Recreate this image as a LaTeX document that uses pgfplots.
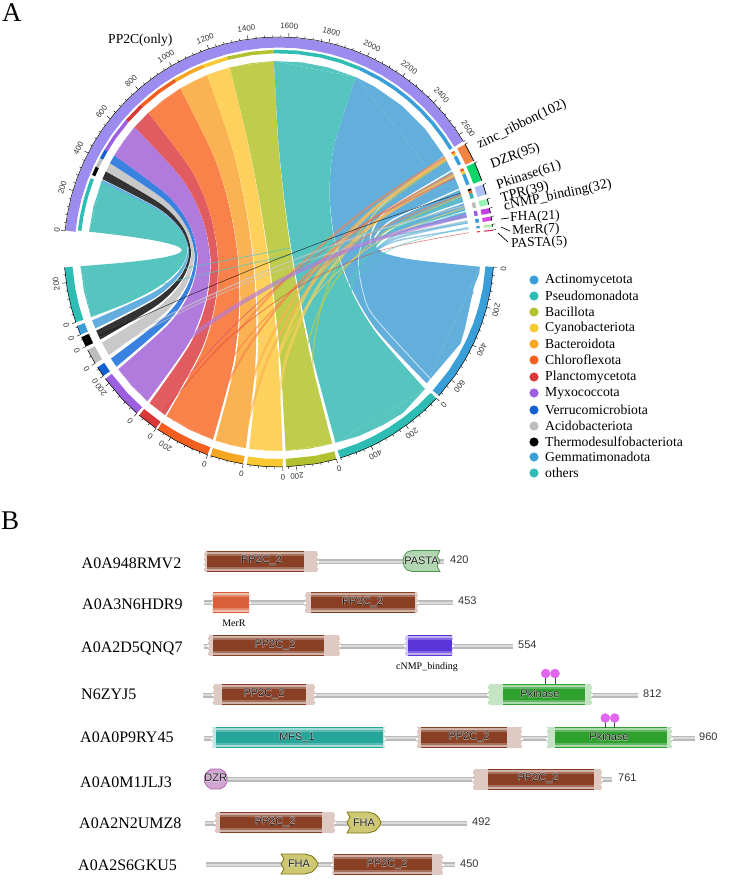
\documentclass[border=0pt]{standalone}
\usepackage{fontspec}
\setmainfont{Liberation Serif}
\newfontfamily\lsans{Liberation Sans}
\usepackage{pgfplots}
\usepgfplotslibrary{fillbetween}
\pgfplotsset{compat=1.18}
\newcommand{\fs}[1]{\fontsize{#1}{#1}\selectfont}

% chords
\definecolor{cTeal}{HTML}{56C5C0}
\definecolor{cGem}{HTML}{63AEDF}
\definecolor{cBlack}{HTML}{333333}
\definecolor{cGrey}{HTML}{C9C9C9}
\definecolor{cVerr}{HTML}{3A82E0}
\definecolor{cPurp}{HTML}{B07BDD}
\definecolor{cRed}{HTML}{E15C60}
\definecolor{cOrg}{HTML}{F9824B}
\definecolor{cLOrg}{HTML}{FBB253}
\definecolor{cYel}{HTML}{FDD15C}
\definecolor{cOli}{HTML}{BFCC4C}
\definecolor{cAct}{HTML}{63AFDC}
% tracks
\definecolor{tTeal}{HTML}{2DBDB5}
\definecolor{tBlue}{HTML}{3A9FD8}
\definecolor{tOli}{HTML}{B3C02F}
\definecolor{tYel}{HTML}{F9C932}
\definecolor{tLOrg}{HTML}{F5A623}
\definecolor{tOrg}{HTML}{F25F1F}
\definecolor{tRed}{HTML}{D93838}
\definecolor{tPurp}{HTML}{9B5FE0}
\definecolor{tVerr}{HTML}{1560D0}
\definecolor{tGrey}{HTML}{BDBDBD}
\definecolor{tLav}{HTML}{9C8CF0}
% part B
\definecolor{pBrown}{HTML}{8A4025}
\definecolor{pTeal}{HTML}{26A69A}
\definecolor{pGreen}{HTML}{2EA02E}
\definecolor{pViol}{HTML}{5A35D8}
\definecolor{pMerR}{HTML}{D8603A}
\definecolor{pLoll}{HTML}{E066F0}

\newcommand{\trk}[3]{\addplot[color=#1,line width=#2pt,data cs=polar] coordinates {#3};}
\newcommand{\rib}[2]{\addplot[fill=#1,draw=none] coordinates {#2};}
% ribbon: colour, edge from top to bottom, other edge from top to bottom
\newcommand{\rbn}[3]{%
  \addplot[name path=ea,draw=none,smooth] coordinates {#2};
  \addplot[name path=eb,draw=none,smooth] coordinates {#3};
  \addplot[fill=#1,draw=none] fill between[of=ea and eb,reverse=true,on layer=main];}
\newcommand{\lnk}[3]{\addplot[color=#1,line width=#2pt,smooth,opacity=.65] coordinates {#3};}
\newcommand{\bbone}[3]{%
  \addplot[color=black!27,line width=5pt] coordinates {(#1,#3)(#2,#3)};
  \addplot[color=black!14,line width=2pt] coordinates {(#1,#3)(#2,#3)};}
% x0 x1 outer, xd0 xd1 dark part, y, ytop, ybot, colour
\newcommand{\domn}[8]{%
  \addplot[color=#8!28!white,line width=21pt] coordinates {(#1,#5)(#2,#5)};
  \addplot[color=#8,line width=21pt] coordinates {(#3,#5)(#4,#5)};
  \addplot[color=#8!40!white,line width=19pt] coordinates {(#3,#5)(#4,#5)};
  \addplot[color=#8!75!white,line width=15pt] coordinates {(#3,#5)(#4,#5)};
  \addplot[color=#8,line width=11pt] coordinates {(#3,#5)(#4,#5)};
  \addplot[color=white,line width=1.6pt,dash pattern=on 2pt off 3pt] coordinates {(#1,#6)(#1,#7)};
  \addplot[color=white,line width=1.6pt,dash pattern=on 2pt off 3pt] coordinates {(#2,#6)(#2,#7)};}
\tikzset{dfont/.style={font=\lsans\fs{11},inner sep=0pt}}
\newcommand{\dlab}[3]{%
  \node[dfont,text=white,text opacity=.45,xshift=.5pt] at (axis cs:#1,#2) {#3};
  \node[dfont,text=white,text opacity=.45,xshift=-.5pt] at (axis cs:#1,#2) {#3};
  \node[dfont,text=white,text opacity=.45,yshift=.5pt] at (axis cs:#1,#2) {#3};
  \node[dfont,text=white,text opacity=.45,yshift=-.5pt] at (axis cs:#1,#2) {#3};
  \node[dfont,text=black!88] at (axis cs:#1,#2) {#3};}
\newcommand{\nmb}[3]{\node[font=\lsans\fs{11},text=black!80,anchor=west,inner sep=0pt] at (axis cs:#1,#2) {#3};}
\newcommand{\accn}[3]{\node[font=\fs{16},anchor=west,inner sep=0pt] at (axis cs:#1,#2) {#3};}
\newcommand{\lgd}[3]{%
  \addplot[only marks,mark=*,mark size=4.3pt,color=#1,mark options={draw=none}] coordinates {(534,#2)};
  \node[font=\fs{13.7},anchor=west,inner sep=0pt] at (axis cs:545,#2) {#3};}
\newcommand{\tkl}[4]{\node[font=\lsans\fs{8},text=black!80,rotate=#3,inner sep=0pt] at (axis cs:#1,#2) {#4};}
% one tick: angle, outer radius
\newcommand{\tk}[2]{\addplot[black,line width=.4pt,data cs=polar] coordinates {(#1,215)(#1,#2)};}

\pgfplotsset{base/.style={
  scale only axis,width=729pt,height=887pt,hide axis,clip=false,no markers,
  at={(0,0)},anchor=south west}}

\begin{document}
\begin{tikzpicture}
% ---- part A, centre of the circle at the origin
\begin{axis}[base,xmin=-279,xmax=450,ymin=-635,ymax=252]
\addplot[draw=none] coordinates {(-279,252)(450,252)(450,-635)(-279,-635)(-279,252)};

% others
\rbn{cTeal}{(-189.9,20.3)(-155.8,16.3)(-129.4,12.4)(-111,8.6)(-100.2,5)(-97.1,1.5)(-101.9,-1.9)(-114.4,-5.2)(-134.6,-8.3)(-162.7,-11.3)(-198.5,-14.2)}{(-177.8,69.7)(-145.9,55.8)(-121.3,42)(-104,28.3)(-94.1,14.7)(-91.5,1.1)(-96.1,-12.2)(-108.1,-25.6)(-127.4,-38.9)(-154.1,-52)(-188,-65.1)}
\rib{cTeal}{(-189.9,20.3)(-185.6,45.2)(-177.8,69.7)}
\rib{cTeal}{(-198.5,-14.2)(-194.9,-40)(-188,-65.1)}
% Gemmatimonadota
\rbn{cGem}{(-177.8,69.7)(-121.3,41.9)(-98,21)(-91.2,.3)(-100.8,-20.4)(-126.7,-41)(-186.9,-68.4)}{(-176.8,72.2)(-120.5,43.1)(-97.2,21.1)(-90.1,-1.1)(-99.3,-23.5)(-124.7,-46.1)(-183.7,-76.5)}
% Thermodesulfobacteriota
\rbn{cBlack}{(-176.6,72.8)(-120.3,43.5)(-97,21.2)(-89.9,-1.5)(-98.8,-24.4)(-124.1,-47.5)(-182.8,-78.7)}{(-173.1,80.7)(-117.9,48.1)(-95,23.4)(-88,-1.7)(-96.7,-27.1)(-121.3,-52.8)(-178.7,-87.5)}
% Acidobacteriota
\rbn{cGrey}{(-173.1,80.7)(-117.9,48)(-94.8,23)(-87.6,-2.5)(-96,-28.4)(-120.2,-54.8)(-177.1,-90.6)}{(-169.1,88.8)(-115,52.7)(-92.2,24.9)(-84.9,-3.6)(-92.6,-32.7)(-115.7,-62.4)(-170.2,-103.1)}
% Verrucomicrobiota
\rbn{cVerr}{(-169.1,88.8)(-114.9,52.5)(-92,24.4)(-84.3,-4.5)(-91.7,-34.1)(-114.3,-64.6)(-168,-106.6)}{(-164.7,96.6)(-111.9,57.2)(-89.5,26.7)(-81.9,-4.5)(-88.9,-36.7)(-110.7,-69.5)(-162.6,-114.7)}
% Myxococcota
\rbn{cPurp}{(-164.7,96.6)(-111.8,57.1)(-89.3,26.4)(-81.4,-5.1)(-88.1,-37.8)(-109.5,-71.2)(-160.8,-117.3)}{(-144.4,125)(-97.7,74)(-77.1,34.5)(-69,-6)(-73.3,-47.8)(-90,-90.6)(-131.6,-149.3)}
\rib{cPurp}{(-164.7,96.6)(-155.2,111.3)(-144.4,125)}
\rib{cPurp}{(-160.8,-117.3)(-147.1,-134)(-131.6,-149.3)}
% Planctomycetota
\rbn{cRed}{(-144.4,125)(-97.6,74)(-76.9,34.3)(-68.5,-6.5)(-72.4,-48.5)(-88.7,-91.7)(-129.5,-151.1)}{(-130.7,139.2)(-88.2,82.6)(-69.1,38.8)(-61.2,-6)(-64.1,-51.9)(-78,-98.8)(-113.8,-163.2)}
% Chloroflexota
\rbn{cOrg}{(-130.7,139.2)(-88.1,82.5)(-69,38.7)(-60.8,-6.3)(-63.5,-52.3)(-77.1,-99.5)(-112.4,-164.2)}{(-98.7,163.6)(-65.8,97.2)(-49.8,46.1)(-41.2,-6)(-40,-59.3)(-46.2,-113.6)(-66.1,-187.7)}
\rib{cOrg}{(-130.7,139.2)(-115.4,152.2)(-98.7,163.6)}
\rib{cOrg}{(-112.4,-164.2)(-90,-177.5)(-66.1,-187.7)}
% Bacteroidota
\rbn{cLOrg}{(-98.7,163.6)(-65.7,97.2)(-49.5,46)(-40.6,-6.3)(-38.9,-59.7)(-44.5,-114.2)(-63.5,-188.6)}{(-71.9,177)(-47.3,105.5)(-34.5,50.8)(-26.3,-4.8)(-22.8,-61.2)(-24.1,-118.5)(-33.2,-196.2)}
\rib{cLOrg}{(-98.7,163.6)(-85.5,170.8)(-71.9,177)}
\rib{cLOrg}{(-63.5,-188.6)(-48.5,-193)(-33.2,-196.2)}
% Cyanobacteriota
\rbn{cYel}{(-71.9,177)(-47.2,105.4)(-34.1,50.7)(-25.5,-4.9)(-21.4,-61.4)(-22,-118.9)(-29.8,-196.8)}{(-49.1,184.6)(-31.3,110.1)(-20.3,53.6)(-11.4,-3.6)(-4.5,-61.5)(.2,-120)(3.5,-199)}
\rib{cYel}{(-71.9,177)(-60.6,181.1)(-49.1,184.6)}
\rib{cYel}{(-29.8,-196.8)(-13.2,-198.6)(3.5,-199)}
% Bacillota
\rbn{cOli}{(-49.1,184.6)(-31.1,110.1)(-19.9,53.6)(-10.6,-3.5)(-3.2,-61.4)(2.2,-119.9)(6.6,-198.9)}{(-5,190.9)(-1.1,114.5)(4.4,57.2)(12,-.3)(21.9,-57.6)(33.8,-115.2)(53.2,-191.8)}
\rib{cOli}{(-49.1,184.6)(-27.2,189)(-5,190.9)}
\rib{cOli}{(6.6,-198.9)(30.1,-196.7)(53.2,-191.8)}
% Pseudomonadota
\rbn{cTeal}{(-5,190.9)(-.9,114.6)(4.8,57.3)(12.8,0)(23.3,-57.2)(36,-114.5)(56.5,-190.8)}{(77.1,174.8)(55.1,106.5)(50.5,57.3)(55.8,9.8)(71,-35.8)(96.4,-79.7)(146,-137)}
\rib{cTeal}{(-5,190.9)(23.3,189.6)(49.4,184.5)(77.1,174.8)}
\rib{cTeal}{(56.5,-190.8)(80,-184)(104,-173)(124,-161)(146,-137)}
% Actinomycetota
\rbn{cAct}{(77.1,174.8)(55.2,106.6)(50.7,57.6)(56.3,10.4)(71.9,-34.9)(97.8,-78.2)(147.7,-131.3)}{(187.9,34.5)(128.3,21.5)(104,12.8)(97.3,4.9)(107.9,-2)(136.1,-8)(201,-14.7)}
\rib{cAct}{(77.1,174.8)(95.5,165.4)(122.8,146.3)(146.3,122.8)(164.6,96.9)(173.1,80.7)(179.5,65.3)(184.5,49.4)(187.9,34.5)}
\rib{cAct}{(147.7,-131.3)(181.7,-91.3)(186,-76.3)(195,-34.7)(197.7,-28)(200.3,-21.3)(201,-14.7)}

% white slivers in the fan
\addplot[white,line width=.8pt,smooth,opacity=.7] coordinates {(165,96)(102.3,46)(88.4,24.9)(79.4,-8)(84.6,-42.3)(96,-65.9)(152.4,-127.9)};
\addplot[white,line width=1.3pt,smooth] coordinates {(172.8,81.3)(109.2,42.5)(93,21)(91.3,7.4)};
\addplot[white,line width=1.3pt,smooth] coordinates {(180.4,62.8)(113.5,32.1)(95.7,14.4)};
\addplot[white,line width=1.3pt,smooth] coordinates {(184.5,49.4)(115.8,24.6)(97.2,9.6)};
\addplot[white,line width=1.3pt,smooth] coordinates {(186.6,40.7)(117,19.7)(98,6.5)};

% thin links from the small domains
\lnk{cTeal}{2.5}{(183.6,52.6)(110.4,19.4)(74.4,-27.6)(75.7,-88.4)(114.1,-163)}
\lnk{cTeal}{1.5}{(186.1,43)(110,12.9)(67.6,-34.4)(58.9,-98.8)(84.1,-180.4)}
\lnk{cOli}{1.5}{(182.7,55.8)(104.3,19.1)(51.8,-35.4)(25.1,-107.6)(24.3,-197.5)}
\lnk{cOli}{1.5}{(167.5,91.7)(96.8,39.4)(52.2,-25.7)(33.8,-103.8)(41.4,-194.6)}
\lnk{cYel}{3}{(174.8,77.1)(97.9,31)(42,-30.5)(7,-107.1)(-6.9,-198.9)}
\lnk{cYel}{3}{(166.4,93.8)(92.3,40.4)(36.4,-26)(-1.3,-105.4)(-20.8,-197.9)}
\lnk{cYel}{1}{(185.8,44.3)(103,12.6)(40.4,-38.3)(-2.1,-108.3)(-24.3,-197.5)}
\lnk{cLOrg}{2.5}{(167,92.6)(90.9,40)(29.7,-25.1)(-16.7,-102.8)(-48.1,-193.1)}
\lnk{cLOrg}{2.5}{(175.4,75.5)(96.3,30.3)(34.4,-30)(-10.4,-105.2)(-38,-195.3)}
\lnk{cOrg}{2}{(165.8,94.9)(86.7,42.8)(15.1,-18.5)(-48.9,-89.1)(-105.5,-168.8)}
\lnk{cOrg}{2}{(174.1,78.6)(93,32.7)(24.1,-26.2)(-32.8,-98.2)(-77.7,-183.2)}
\lnk{cOrg}{1.2}{(182.2,57.4)(96.9,21.2)(23,-30)(-39.4,-96.1)(-90.3,-177.3)}
\lnk{cRed}{1}{(176,74.3)(91.5,31.9)(14.1,-21.2)(-56.4,-84.8)(-119.8,-158.9)}
\lnk{tRed}{.6}{(190,19.3)(99.6,.8)(18.3,-35.4)(-53.9,-89.4)(-117,-161)}
\lnk{cGrey}{1.5}{(185.3,46.2)(93.3,20)(2.8,-12.6)(-86.3,-51.4)(-174,-96.5)}
\lnk{cGrey}{1}{(188.4,31.5)(95.2,11.5)(4,-17)(-85.1,-54)(-172.3,-99.5)}
\lnk{cTeal}{1}{(186.8,39.7)(92.8,20.1)(-2.3,1.3)(-98.6,-17)(-196,-34.6)}
\lnk{cTeal}{1}{(188.8,28.9)(94.2,13.1)(-.9,-5.7)(-96.3,-27.2)(-192.2,-51.5)}
\lnk{cTeal}{.8}{(189.4,24.9)(112.7,3.2)(72.2,-36.9)(67.8,-95.3)(99.5,-172.3)}
\lnk{black}{.6}{(181.7,59)(90.9,27.9)(.3,-6.3)(-90.1,-43.6)(-180.4,-84.1)}
\lnk{cPurp}{4}{(187.5,36.4)(96.3,12.2)(9.9,-24.2)(-71.5,-72.6)(-147.9,-133.2)}
\lnk{cAct}{2.5}{(188.6,29.9)(118.3,14.2)(95.8,-2.9)(121.3,-21.4)(194.6,-41.4)}
\lnk{cAct}{1.5}{(189.6,23.3)(119,11.4)(96.7,-1.1)(122.8,-14.1)(197.1,-27.7)}

% outer track of PP2C(only)
\trk{tLav}{10}{(174.3,209.5)(170,209.5)(165,209.5)(160,209.5)(155,209.5)(150,209.5)(145,209.5)(140,209.5)(135,209.5)(130,209.5)(125,209.5)(120,209.5)(115,209.5)(110,209.5)(105,209.5)(100,209.5)(95,209.5)(90,209.5)(85,209.5)(80,209.5)(75,209.5)(70,209.5)(65,209.5)(60,209.5)(55,209.5)(50,209.5)(45,209.5)(40,209.5)(35,209.5)(31,209.5)}
\trk{black}{.5}{(174.3,215)(170,215)(165,215)(160,215)(155,215)(150,215)(145,215)(140,215)(135,215)(130,215)(125,215)(120,215)(115,215)(110,215)(105,215)(100,215)(95,215)(90,215)(85,215)(80,215)(75,215)(70,215)(65,215)(60,215)(55,215)(50,215)(45,215)(40,215)(35,215)(31,215)}
% stacked inner track of PP2C(only)
\trk{tTeal}{3.5}{(173.9,200.5)(170,200.5)(165,200.5)(160,200.5)(158.6,200.5)}
\trk{black}{3.5}{(157.6,200.5)(155,200.5)}
\trk{tGrey}{3.5}{(155,200.5)(152.3,200.5)}
\trk{tVerr}{3.5}{(152.3,200.5)(149.6,200.5)}
\trk{tPurp}{3.5}{(149.6,200.5)(145,200.5)(139.1,200.5)}
\trk{tRed}{3.5}{(139.1,200.5)(133.2,200.5)}
\trk{tOrg}{3.5}{(133.2,200.5)(127,200.5)(121.1,200.5)}
\trk{tLOrg}{3.5}{(121.1,200.5)(116,200.5)(112.1,200.5)}
\trk{tYel}{3.5}{(112.1,200.5)(104.9,200.5)}
\trk{tOli}{3.5}{(104.9,200.5)(98,200.5)(91.5,200.5)}
\trk{tTeal}{3.5}{(91.5,200.5)(85,200.5)(78,200.5)(72,200.5)(66.2,200.5)}
\trk{tBlue}{3.5}{(66.2,200.5)(60,200.5)(55,200.5)(50,200.5)(45,200.5)(40,200.5)(35,200.5)(30.9,200.5)}

% taxon tracks
\trk{tBlue}{8}{(-4,211)(-10,211)(-15,211)(-20,211)(-25,211)(-30,211)(-35,211)(-42,211)}
\trk{tTeal}{8}{(-42.9,211)(-48,211)(-53,211)(-58,211)(-63,211)(-68,211)(-73.5,211)}
\trk{tOli}{8}{(-74.5,211)(-80,211)(-88.1,211)}
\trk{tYel}{8}{(-89,211)(-94,211)(-98.6,211)}
\trk{tLOrg}{8}{(-99.6,211)(-104,211)(-108.6,211)}
\trk{tOrg}{8}{(-109.4,211)(-114,211)(-119,211)(-124.4,211)}
\trk{tRed}{8}{(-124.9,211)(-130.6,211)}
\trk{tPurp}{8}{(-131.4,211)(-137,211)(-143.9,211)}
\trk{tVerr}{8}{(-144.8,211)(-147.6,211)}
\trk{tGrey}{8}{(-148.8,211)(-152.9,211)}
\trk{black}{8}{(-153.9,211)(-156.7,211)}
\trk{tBlue}{8}{(-157.4,211)(-159.9,211)}
\trk{tTeal}{8}{(-160.9,211)(-165,211)(-170,211)(-175.9,211)}
\trk{black}{.5}{(-4,215)(-10,215)(-15,215)(-20,215)(-25,215)(-30,215)(-35,215)(-42,215)}
\trk{black}{.5}{(-42.9,215)(-48,215)(-53,215)(-58,215)(-63,215)(-68,215)(-73.5,215)}
\trk{black}{.5}{(-74.5,215)(-80,215)(-88.1,215)}
\trk{black}{.5}{(-89,215)(-94,215)(-98.6,215)}
\trk{black}{.5}{(-99.6,215)(-104,215)(-108.6,215)}
\trk{black}{.5}{(-109.4,215)(-114,215)(-119,215)(-124.4,215)}
\trk{black}{.5}{(-124.9,215)(-130.6,215)}
\trk{black}{.5}{(-131.4,215)(-137,215)(-143.9,215)}
\trk{black}{.5}{(-144.8,215)(-147.6,215)}
\trk{black}{.5}{(-148.8,215)(-152.9,215)}
\trk{black}{.5}{(-153.9,215)(-156.7,215)}
\trk{black}{.5}{(-157.4,215)(-159.9,215)}
\trk{black}{.5}{(-160.9,215)(-165,215)(-170,215)(-175.9,215)}

% tick marks, every 40 units, longer every 200
\tk{174.3}{219}\tk{172.1}{217}\tk{170}{217}\tk{167.8}{217}\tk{165.6}{217}\tk{163.4}{219}\tk{161.3}{217}\tk{159.1}{217}\tk{156.9}{217}\tk{154.8}{217}\tk{152.6}{219}\tk{150.4}{217}\tk{148.2}{217}\tk{146.1}{217}\tk{143.9}{217}\tk{141.7}{219}\tk{139.5}{217}\tk{137.4}{217}\tk{135.2}{217}\tk{133}{217}\tk{130.9}{219}\tk{128.7}{217}\tk{126.5}{217}\tk{124.3}{217}\tk{122.2}{217}\tk{120}{219}\tk{117.8}{217}\tk{115.7}{217}\tk{113.5}{217}\tk{111.3}{217}\tk{109.1}{219}\tk{107}{217}\tk{104.8}{217}\tk{102.6}{217}\tk{100.5}{217}\tk{98.3}{219}\tk{96.1}{217}\tk{93.9}{217}\tk{91.8}{217}\tk{89.6}{217}\tk{87.4}{219}\tk{85.2}{217}\tk{83.1}{217}\tk{80.9}{217}\tk{78.7}{217}\tk{76.6}{219}\tk{74.4}{217}\tk{72.2}{217}\tk{70}{217}\tk{67.9}{217}\tk{65.7}{219}\tk{63.5}{217}\tk{61.4}{217}\tk{59.2}{217}\tk{57}{217}\tk{54.8}{219}\tk{52.7}{217}\tk{50.5}{217}\tk{48.3}{217}\tk{46.1}{217}\tk{44}{219}\tk{41.8}{217}\tk{39.6}{217}\tk{37.5}{217}\tk{35.3}{217}\tk{33.1}{219}\tk{30.9}{217}
\tk{-4}{219}\tk{-6.2}{217}\tk{-8.3}{217}\tk{-10.5}{217}\tk{-12.7}{217}\tk{-14.9}{219}\tk{-17}{217}\tk{-19.2}{217}\tk{-21.4}{217}\tk{-23.5}{217}\tk{-25.7}{219}\tk{-27.9}{217}\tk{-30}{217}\tk{-32.2}{217}\tk{-34.4}{217}\tk{-36.6}{219}\tk{-38.7}{217}\tk{-40.9}{217}
\tk{-42.9}{219}\tk{-45.1}{217}\tk{-47.2}{217}\tk{-49.4}{217}\tk{-51.6}{217}\tk{-53.8}{219}\tk{-55.9}{217}\tk{-58.1}{217}\tk{-60.3}{217}\tk{-62.4}{217}\tk{-64.6}{219}\tk{-66.8}{217}\tk{-69}{217}\tk{-71.1}{217}\tk{-73.3}{217}
\tk{-74.5}{219}\tk{-76.7}{217}\tk{-78.8}{217}\tk{-81}{217}\tk{-83.2}{217}\tk{-85.4}{219}\tk{-87.5}{217}
\tk{-89}{219}\tk{-91.2}{217}\tk{-93.3}{217}\tk{-95.5}{217}\tk{-97.7}{217}
\tk{-99.6}{219}\tk{-101.8}{217}\tk{-103.9}{217}\tk{-106.1}{217}\tk{-108.3}{217}
\tk{-109.4}{219}\tk{-111.6}{217}\tk{-113.7}{217}\tk{-115.9}{217}\tk{-118.1}{217}\tk{-120.3}{219}\tk{-122.4}{217}
\tk{-124.9}{219}\tk{-127.1}{217}\tk{-129.2}{217}
\tk{-131.4}{219}\tk{-133.6}{217}\tk{-135.7}{217}\tk{-137.9}{217}\tk{-140.1}{217}\tk{-142.3}{219}
\tk{-144.8}{219}\tk{-147}{217}\tk{-148.8}{219}\tk{-151}{217}\tk{-153.9}{219}\tk{-156}{217}\tk{-157.4}{219}\tk{-159.6}{217}
\tk{-160.9}{219}\tk{-163.1}{217}\tk{-165.2}{217}\tk{-167.4}{217}\tk{-169.6}{217}\tk{-171.8}{219}\tk{-173.9}{217}

% domain sectors, outer and stacked inner
\definecolor{dZn}{HTML}{F08445}\definecolor{dDz}{HTML}{0BD56B}\definecolor{dPk}{HTML}{B0C2F5}
\definecolor{dTp}{HTML}{96F2B5}\definecolor{dCn}{HTML}{C23FE3}\definecolor{dFh}{HTML}{D845E8}
\definecolor{dMe}{HTML}{A8F095}\definecolor{dPa}{HTML}{D03060}
\trk{dZn}{9}{(30.1,210.5)(27.5,210.5)(25.1,210.5)}
\trk{dDz}{9}{(24.5,210.5)(22,210.5)(19.4,210.5)}
\trk{dPk}{9}{(18.3,210.5)(15.5,210.5)}
\trk{dTp}{9}{(14.3,210.5)(12.7,210.5)}
\trk{dCn}{9}{(11.8,210.5)(10.4,210.5)}
\trk{dFh}{9}{(9.5,210.5)(8.4,210.5)}
\trk{dMe}{9}{(7.4,210.5)(6.8,210.5)}
\trk{dPa}{9}{(5.95,210.5)(5.65,210.5)}
\trk{black}{.7}{(30.1,215)(27.5,215)(25.1,215)}
\trk{black}{.7}{(24.5,215)(22,215)(19.4,215)}
\trk{black}{.7}{(18.3,215)(15.5,215)}
\trk{black}{.7}{(14.3,215)(12.7,215)}
\trk{black}{.7}{(11.8,215)(10.4,215)}
\trk{black}{.7}{(9.5,215)(8.4,215)}
\trk{black}{.7}{(7.4,215)(6.8,215)}
\tk{30.1}{218}\tk{24.5}{218}\tk{18.3}{218}\tk{14.3}{218}\tk{11.8}{218}\tk{9.5}{218}\tk{7.4}{218}\tk{5.9}{218}
\trk{tOrg}{3.5}{(30,200.5)(29.4,200.5)}
\trk{tYel}{3.5}{(29.4,200.5)(28.7,200.5)}
\trk{tBlue}{3.5}{(28.5,200.5)(25.8,200.5)}
\trk{tOrg}{3.5}{(24.5,200.5)(23.7,200.5)}
\trk{tYel}{3.5}{(23.7,200.5)(22.8,200.5)}
\trk{tBlue}{3.5}{(22.8,200.5)(19.6,200.5)}
\trk{black}{3.5}{(18.3,200.5)(17.8,200.5)}
\trk{tOrg}{3.5}{(17.8,200.5)(17,200.5)}
\trk{tTeal}{3.5}{(17,200.5)(15.5,200.5)}
\trk{tGrey}{3.5}{(14.3,200.5)(12.7,200.5)}
\trk{tPurp}{3.5}{(11.8,200.5)(10.4,200.5)}
\trk{tBlue}{3.5}{(9.5,200.5)(8.4,200.5)}
\trk{tBlue}{3.5}{(7.4,200.5)(6.8,200.5)}
\trk{tRed}{3.5}{(5.95,200.5)(5.65,200.5)}

% tick labels
\tkl{-216.6}{64.6}{73.4}{200}\tkl{-200.6}{104}{62.6}{400}\tkl{-177.4}{140.1}{51.7}{600}
\tkl{-148}{170.8}{40.9}{800}\tkl{-113}{195.7}{30}{1000}\tkl{-73.9}{213.5}{19.1}{1200}
\tkl{-32.6}{223.6}{8.3}{1400}\tkl{10.3}{225.8}{-2.6}{1600}\tkl{52.4}{219.8}{-13.4}{1800}
\tkl{93}{206}{-24.3}{2000}\tkl{130.3}{184.7}{-35.2}{2200}\tkl{162.6}{157}{-46}{2400}
\tkl{189.3}{123.4}{-56.9}{2600}\tkl{-222}{21.5}{84}{0}
\tkl{224.4}{-16.9}{-94}{0}\tkl{217.4}{-57.9}{-105}{200}\tkl{202.7}{-97.6}{-116}{400}\tkl{180.6}{-134.2}{-127}{600}
\tkl{164.9}{-153.2}{-133}{0}\tkl{132.9}{-181.6}{-144}{200}\tkl{96.5}{-203.2}{-155}{400}
\tkl{60.1}{-216.8}{-165}{0}\tkl{18}{-224.3}{-175}{200}\tkl{3.9}{-225}{-179}{0}
\tkl{-37.5}{-221.9}{170}{0}\tkl{-74.7}{-212.2}{160}{0}\tkl{-113.5}{-194.3}{150}{200}
\tkl{-128.7}{-184.5}{145}{0}\tkl{-148.8}{-168.8}{138}{0}\tkl{-178}{-137.6}{128}{200}
\tkl{-183.9}{-129.7}{125}{0}\tkl{-192.5}{-116.6}{121}{0}\tkl{-202}{-99.2}{116}{0}
\tkl{-207.7}{-86.5}{112}{0}\tkl{-212.6}{-73.6}{109}{0}\tkl{-222.7}{-32.1}{98}{200}
\end{axis}

% ---- legend, part B and the texts, in picture pixels
\begin{axis}[base,xmin=0,xmax=729,ymin=0,ymax=887,y dir=reverse]
\node[font=\fs{27},anchor=west,inner sep=0pt] at (axis cs:2,13) {A};
\node[font=\fs{27},anchor=west,inner sep=0pt] at (axis cs:1,521) {B};
\node[font=\fs{13.6},anchor=west,inner sep=0pt] at (axis cs:108,40) {PP2C(only)};

\node[font=\fs{14},rotate=26,anchor=west,inner sep=0pt] at (axis cs:478,146) {zinc\_ribbon(102)};
\node[font=\fs{14},rotate=20,anchor=west,inner sep=0pt] at (axis cs:491,165) {DZR(95)};
\node[font=\fs{14},rotate=18,anchor=west,inner sep=0pt] at (axis cs:497,186) {Pkinase(61)};
\node[font=\fs{14},rotate=15,anchor=west,inner sep=0pt] at (axis cs:501,199) {TPR(39)};
\node[font=\fs{14},rotate=12,anchor=west,inner sep=0pt] at (axis cs:504,207) {cNMP\_binding(32)};
\node[font=\fs{13.5},rotate=2,anchor=west,inner sep=0pt] at (axis cs:510,218) {FHA(21)};
\node[font=\fs{13.5},rotate=2,anchor=west,inner sep=0pt] at (axis cs:512,231) {MerR(7)};
\node[font=\fs{13.5},rotate=2,anchor=west,inner sep=0pt] at (axis cs:511,244) {PASTA(5)};
\addplot[black,line width=.7pt] coordinates {(501,219)(509,218)};
\addplot[black,line width=.7pt] coordinates {(501,227)(510,231)};
\addplot[black,line width=.7pt] coordinates {(498,233)(508,242)};

\lgd{tBlue}{280}{Actinomycetota}
\lgd{tTeal}{296}{Pseudomonadota}
\lgd{tOli}{312}{Bacillota}
\lgd{tYel}{328}{Cyanobacteriota}
\lgd{tLOrg}{344}{Bacteroidota}
\lgd{tOrg}{360}{Chloroflexota}
\lgd{tRed}{377}{Planctomycetota}
\lgd{tPurp}{393}{Myxococcota}
\lgd{tVerr}{410}{Verrucomicrobiota}
\lgd{tGrey}{426}{Acidobacteriota}
\lgd{black}{442}{Thermodesulfobacteriota}
\lgd{tBlue}{457}{Gemmatimonadota}
\lgd{tTeal}{473}{others}

% A0A948RMV2
\accn{81.5}{563}{A0A948RMV2}
\bbone{204}{444}{561.5}
\domn{204}{318}{207}{304}{561}{550.5}{571.5}{pBrown}
\addplot[fill=green!45!black!30!white,draw=green!40!black!70!white,line width=.7pt] coordinates {(440,550.5)(412,550.5)(407,552)(404,556)(403,561)(404,566)(407,570)(412,571.5)(440,571.5)(437,566)(440,561)(437,556)(440,550.5)};
\dlab{261.5}{560.7}{PP2C\_2}\dlab{421.5}{560.5}{PASTA}
\nmb{450}{560}{420}
% A0A3N6HDR9
\accn{82}{604}{A0A3N6HDR9}
\bbone{204}{453}{602.5}
\domn{212}{250}{213}{249}{602}{592}{612.5}{pMerR}
\domn{305}{418}{311}{415}{602}{592}{612.5}{pBrown}
\dlab{362.5}{602.5}{PP2C\_2}
\nmb{458}{601}{453}
\node[font=\fs{10}] at (axis cs:234,623.5) {MerR};
% A0A2D5QNQ7
\accn{81}{648}{A0A2D5QNQ7}
\bbone{204}{513}{646}
\domn{208}{340}{213}{324}{645.5}{635}{656}{pBrown}
\domn{405}{453}{408}{452}{645.5}{635}{656}{pViol}
\dlab{275}{645}{PP2C\_2}
\nmb{518}{644.5}{554}
\node[font=\fs{10}] at (axis cs:427,667) {cNMP\_binding};
% N6ZYJ5
\accn{81}{694}{N6ZYJ5}
\bbone{203}{638}{695}
\domn{213}{315}{222}{306}{694.5}{684}{705}{pBrown}
\domn{488}{592}{503}{585}{694.5}{684}{705}{pGreen}
\dlab{264}{694}{PP2C\_2}\dlab{540}{694}{Pkinase}
\nmb{643}{693.5}{812}
\addplot[black!75,line width=.8pt] coordinates {(545.7,675)(545.7,684)};
\addplot[black!75,line width=.8pt] coordinates {(555,675)(555,684)};
\addplot[only marks,mark=diamond*,mark size=4.5pt,color=pLoll,mark options={draw=none}] coordinates {(545.7,673.5)(555,673.5)};
% A0A0P9RY45
\accn{80}{737}{A0A0P9RY45}
\bbone{204}{695}{738}
\domn{212}{385}{216}{383}{737.5}{728}{747.5}{pTeal}
\domn{417}{522}{421}{507}{737.5}{728}{747.5}{pBrown}
\domn{547}{672}{555}{667}{737.5}{728}{747.5}{pGreen}
\dlab{297}{737.5}{MFS\_1}\dlab{469}{737}{PP2C\_2}\dlab{609}{737}{Pkinase}
\nmb{699}{736.5}{960}
\addplot[black!75,line width=.8pt] coordinates {(605.3,720)(605.3,728)};
\addplot[black!75,line width=.8pt] coordinates {(614.7,720)(614.7,728)};
\addplot[only marks,mark=diamond*,mark size=4.5pt,color=pLoll,mark options={draw=none}] coordinates {(605.3,718)(614.7,718)};
% A0A0M1JLJ3
\accn{80}{782}{A0A0M1JLJ3}
\bbone{204}{612}{779}
\domn{473}{602}{488}{594}{779}{769}{789.5}{pBrown}
\addplot[fill=violet!35!white,draw=violet!60!white,line width=.8pt] coordinates {(211,769)(220,769)(225,772)(227,776)(227,782)(225,786)(220,789)(211,789)(207,786)(204.5,782)(204.5,776)(207,772)(211,769)};
\dlab{538}{778.5}{PP2C\_2}\dlab{215.7}{778}{DZR}
\nmb{618}{777.5}{761}
% A0A2N2UMZ8
\accn{79}{823}{A0A2N2UMZ8}
\bbone{205}{467}{823}
\domn{215}{335}{220}{322}{822.5}{812}{833}{pBrown}
\addplot[fill=olive!45!white,draw=olive!85!black,line width=.8pt] coordinates {(347,812)(368,812)(375,814)(379,818)(381,822.5)(379,827)(375,831)(368,833)(347,833)(350,828)(347,822.5)(350,817)(347,812)};
\dlab{275}{822.7}{PP2C\_2}\dlab{364}{822.7}{FHA}
\nmb{472}{821.5}{492}
% A0A2S6GKU5
\accn{78}{865}{A0A2S6GKU5}
\bbone{206}{455}{864.5}
\addplot[fill=olive!45!white,draw=olive!85!black,line width=.8pt] coordinates {(281,854)(305,854)(312,856)(316,860)(318,864)(316,868)(312,872)(305,874)(281,874)(284,869)(281,864)(284,859)(281,854)};
\domn{332}{443}{334}{432}{864}{854}{874.5}{pBrown}
\dlab{299}{864}{FHA}\dlab{387}{864}{PP2C\_2}
\nmb{460}{863.5}{450}
\end{axis}
\end{tikzpicture}
\end{document}
